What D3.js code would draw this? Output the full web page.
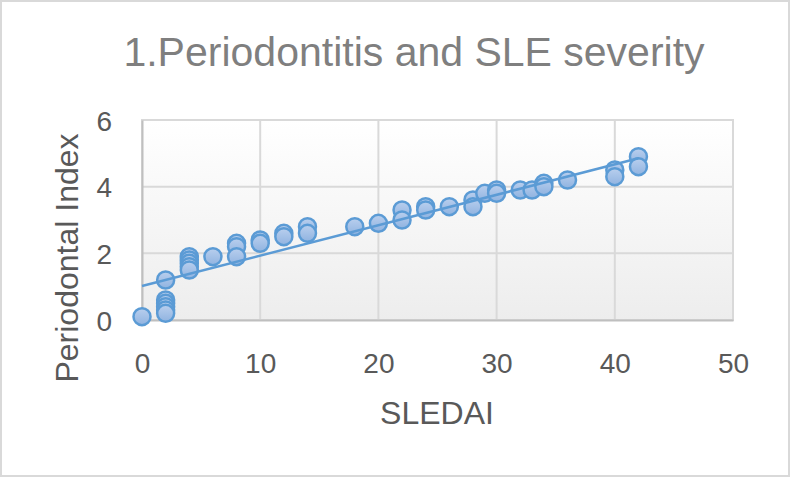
<!DOCTYPE html>
<html><head><meta charset="utf-8">
<script src="https://cdn.jsdelivr.net/npm/d3@7"></script>
<style>html,body{margin:0;padding:0;background:#fff;}svg{display:block;}</style>
</head><body>
<svg id="chart" width="790" height="477"></svg>
<script>
const chartTitle = "1.Periodontitis and SLE severity";
const xTitle = "SLEDAI";
const yTitle = "Periodontal Index";
const sledai = [0, 2, 2, 2, 2, 2, 2, 4, 4, 4, 4, 4, 6, 8, 8, 8, 10, 10, 12, 12, 14, 14, 18, 20, 22, 22, 24, 24, 26, 28, 28, 29, 30, 30, 32, 33, 34, 34, 36, 40, 40, 42, 42];
const periodontal = [0.1, 1.2, 0.6, 0.5, 0.4, 0.3, 0.2, 1.9, 1.8, 1.7, 1.6, 1.5, 1.9, 2.3, 2.2, 1.9, 2.4, 2.3, 2.6, 2.5, 2.8, 2.6, 2.8, 2.9, 3.3, 3.0, 3.4, 3.3, 3.4, 3.6, 3.4, 3.8, 3.9, 3.8, 3.9, 3.9, 4.1, 4.0, 4.2, 4.5, 4.3, 4.9, 4.6];
const trendX = [0, 42];
const trendY = [1.02, 4.85];
const xTicks = [0, 10, 20, 30, 40, 50];
const yTicks = [0, 2, 4, 6];

const svg = d3.select("#chart");
const W = 790, H = 477;
const plot = {left: 142, right: 733, top: 120, bottom: 320};
const x = d3.scaleLinear().domain([0, 50]).range([plot.left, plot.right]);
const y = d3.scaleLinear().domain([0, 6]).range([plot.bottom, plot.top]);
const font = "'Liberation Sans', Arial, sans-serif";

svg.append("rect").attr("x", 1).attr("y", 1).attr("width", W - 2).attr("height", H - 2)
  .attr("fill", "#fff").attr("stroke", "#d9d9d9").attr("stroke-width", 2);

const defs = svg.append("defs");
const bg = defs.append("linearGradient").attr("id", "bg").attr("x1", 0).attr("y1", 0).attr("x2", 0).attr("y2", 1);
bg.append("stop").attr("offset", "0%").attr("stop-color", "#ffffff");
bg.append("stop").attr("offset", "100%").attr("stop-color", "#ededed");
const mk = defs.append("linearGradient").attr("id", "mk").attr("x1", 0).attr("y1", 0).attr("x2", 0).attr("y2", 1);
mk.append("stop").attr("offset", "0%").attr("stop-color", "#b9cfee");
mk.append("stop").attr("offset", "100%").attr("stop-color", "#90b3e0");

svg.append("rect").attr("x", plot.left).attr("y", plot.top)
  .attr("width", plot.right - plot.left).attr("height", plot.bottom - plot.top)
  .attr("fill", "url(#bg)").attr("stroke", "#d9d9d9").attr("stroke-width", 2);

// gridlines
svg.append("g").selectAll("line").data(xTicks.filter(d => d > 0 && d < 50)).join("line")
  .attr("x1", d => x(d)).attr("x2", d => x(d)).attr("y1", plot.top).attr("y2", plot.bottom)
  .attr("stroke", "#d9d9d9").attr("stroke-width", 2);
svg.append("g").selectAll("line").data(yTicks.filter(d => d > 0 && d < 6)).join("line")
  .attr("x1", plot.left).attr("x2", plot.right).attr("y1", d => y(d)).attr("y2", d => y(d))
  .attr("stroke", "#d9d9d9").attr("stroke-width", 2);

// axes
const xAxis = svg.append("g").attr("transform", `translate(0,${plot.bottom})`)
  .call(d3.axisBottom(x).tickValues(xTicks).tickFormat(d3.format("d")).tickSize(0).tickPadding(33));
const yAxis = svg.append("g").attr("transform", `translate(${plot.left},0)`)
  .call(d3.axisLeft(y).tickValues(yTicks).tickFormat(d3.format("d")).tickSize(0).tickPadding(30));
[xAxis, yAxis].forEach(a => {
  a.select(".domain").attr("stroke", "#bfbfbf").attr("stroke-width", 2);
  a.selectAll("text").attr("font-family", font).attr("font-size", 28).attr("fill", "#595959");
});
xAxis.selectAll("text").attr("dy", "0.71em");
yAxis.selectAll("text").attr("dy", "0.36em");

// markers
svg.append("g").selectAll("circle").data(sledai.map((d, i) => [d, periodontal[i]])).join("circle")
  .attr("cx", d => x(d[0])).attr("cy", d => y(d[1])).attr("r", 8.5)
  .attr("fill", "url(#mk)").attr("stroke", "#5b9bd5").attr("stroke-width", 2.5);

// trendline
svg.append("line")
  .attr("x1", x(trendX[0])).attr("y1", y(trendY[0]))
  .attr("x2", x(trendX[1])).attr("y2", y(trendY[1]))
  .attr("stroke", "#5b9bd5").attr("stroke-width", 2.5);

// titles
svg.append("text").attr("x", 414).attr("y", 66).attr("text-anchor", "middle")
  .attr("font-family", font).attr("font-size", 41).attr("fill", "#7f7f7f").text(chartTitle);
svg.append("text").attr("x", 437).attr("y", 424).attr("text-anchor", "middle")
  .attr("font-family", font).attr("font-size", 32).attr("fill", "#595959").text(xTitle);
svg.append("text").attr("transform", "translate(78,258) rotate(-90)").attr("text-anchor", "middle")
  .attr("font-family", font).attr("font-size", 32).attr("fill", "#595959").text(yTitle);
</script>
</body></html>
